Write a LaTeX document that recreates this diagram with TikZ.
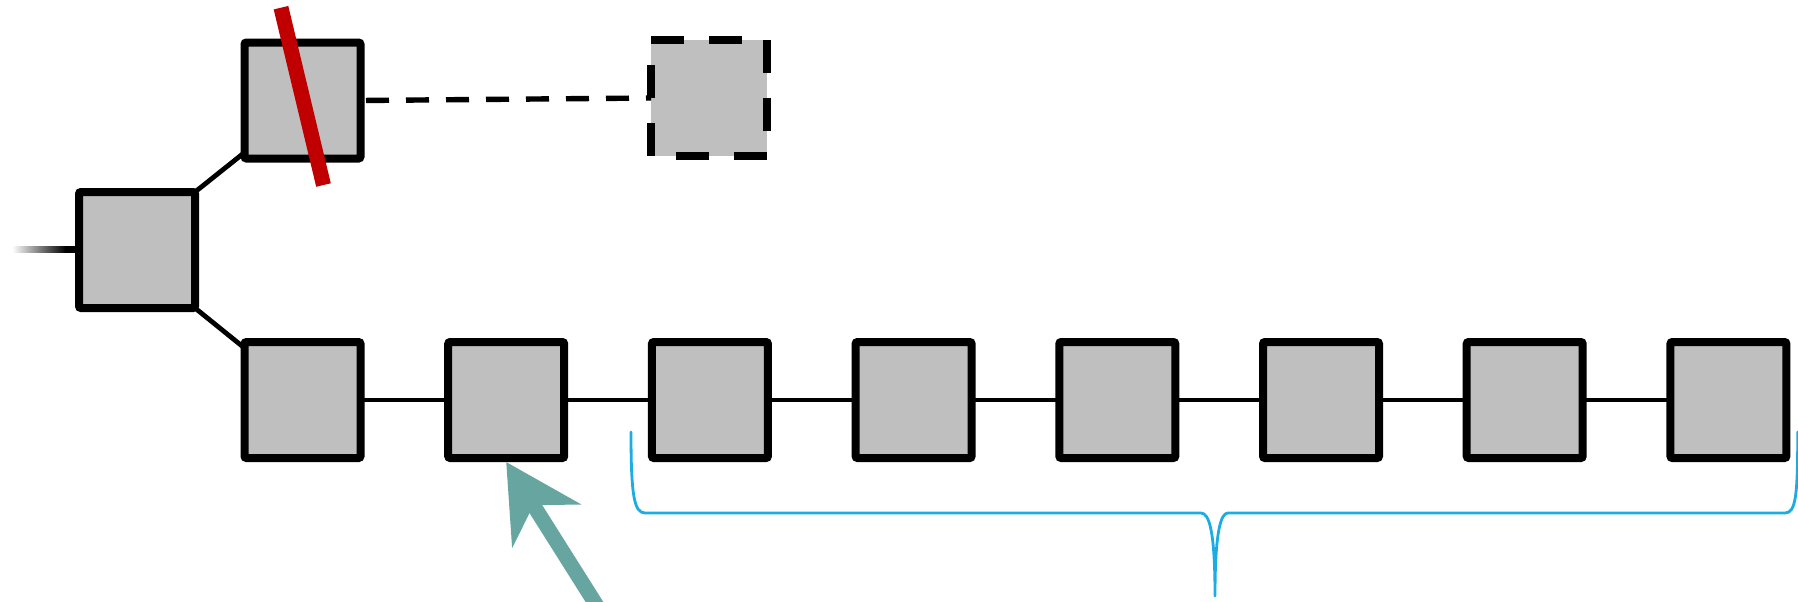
\documentclass[tikz,border=0pt]{standalone}
\usetikzlibrary{arrows.meta,calc}
\definecolor{boxgray}{RGB}{191,191,191}
\definecolor{strikered}{RGB}{192,0,0}
\definecolor{arrowteal}{RGB}{102,165,160}
\definecolor{bracecol}{RGB}{27,172,228}
\begin{document}
\begin{tikzpicture}[x=0.5pt,y=-0.5pt,
  box/.style={draw=black, fill=boxgray, line width=4pt, minimum size=58pt, inner sep=0pt, outer sep=0pt, rounded corners=1pt},
  ghost/.style={fill=boxgray, minimum size=58pt, inner sep=0pt, outer sep=0pt},
  ghostborder/.style={draw=black, line width=4pt, line cap=butt, dash pattern=on 16.5pt off 12.5pt},
  link/.style={line width=2.4pt},
  droplink/.style={line width=2.7pt, dash pattern=on 11.5pt off 8.5pt, shorten <=2.75pt},
  strikeout/.style={draw=strikered, line width=7.5pt},
  bigarrow/.style={draw=arrowteal, line width=7.5pt, -{Stealth[length=37.5pt, width=40pt, inset=12pt]}},
  bracestyle/.style={draw=bracecol, line width=1.4pt, line cap=round, line join=round}
]
\clip (0,0) rectangle (1798,601);
% nodes
\node[ghost] (ghost) at (709,98) {};
\node[box] (root) at (137,250) {};
\node[box] (top) at (302.5,100.5) {};
\node[box] (b1) at (302.5,400) {};
\node[box] (b2) at (506.2,400) {};
\node[box] (b3) at (709.9,400) {};
\node[box] (b4) at (913.6,400) {};
\node[box] (b5) at (1117.3,400) {};
\node[box] (b6) at (1321,400) {};
\node[box] (b7) at (1524.7,400) {};
\node[box] (b8) at (1728.4,400) {};
% dashed ghost border
\draw[ghostborder] (ghost.north west) -- (ghost.north east) -- (ghost.south east) -- (ghost.south west) -- cycle;
% incoming faded line
\coordinate (inl) at (12,249);
\shade[left color=white, right color=black] ($(inl)+(0,-3)$) rectangle ($(inl)+(54,3)$);
\fill[black] ($(inl)+(53,-3)$) rectangle ($(root.west)+(0,3)$);
% connectors
\draw[link] (root.north east) -- ($(top.south west)+(0,-6)$);
\draw[link] (root.south east) -- ($(b1.north west)+(0,6)$);
\draw[link] (b1.east) -- (b2.west);
\draw[link] (b2.east) -- (b3.west);
\draw[link] (b3.east) -- (b4.west);
\draw[link] (b4.east) -- (b5.west);
\draw[link] (b5.east) -- (b6.west);
\draw[link] (b6.east) -- (b7.west);
\draw[link] (b7.east) -- (b8.west);
\draw[droplink] (top.east) -- (ghost.west);
% strike-through
\draw[strikeout] (281,7.7) -- (323.5,185);
% arrow
\coordinate (arrowstart) at (609.6,626);
\draw[bigarrow] (arrowstart) -- ([yshift=-2pt]b2.south);
% brace
\draw[bracestyle] (631,432) .. controls (631,495) and (634,513) .. (645,513) -- (1201,513)
  .. controls (1209,513) and (1215,530) .. (1215,596)
  .. controls (1215,530) and (1221,513) .. (1228,513) -- (1785,513)
  .. controls (1796,513) and (1797.7,495) .. (1797.7,432);
\end{tikzpicture}
\end{document}
